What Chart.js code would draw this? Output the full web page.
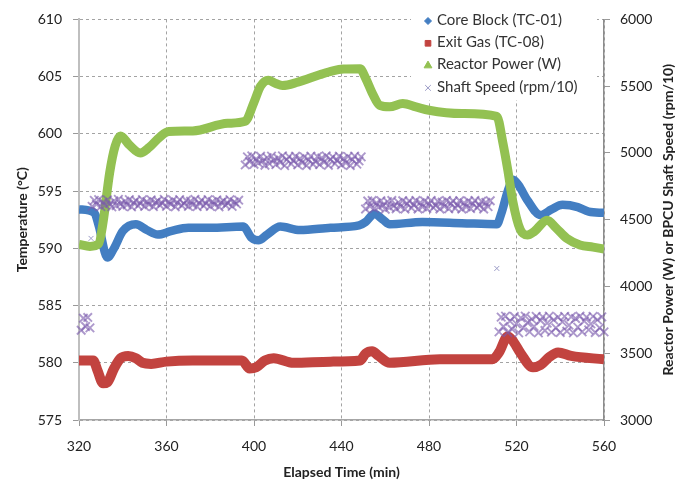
<!DOCTYPE html>
<html lang="en">
<head>
<meta charset="UTF-8">
<title>Reactor Test - Temperatures and Power</title>
<script src="https://cdn.jsdelivr.net/npm/chart.js"></script>
<style>
    body {
        margin: 0;
        padding: 0;
        background-color: #fff;
    }
</style>
</head>
<body>
<canvas id="testChart" width="688" height="485"></canvas>
<script>
    // Core block thermocouple (TC-01), deg C, left axis
    const coreTime = [320, 327, 329, 333, 336, 340, 346, 351, 356, 362, 370, 380, 395, 399, 402, 406, 412, 421, 435, 448, 451, 455, 459, 462, 477, 495, 511, 513, 516, 518.5, 521, 525, 531, 536, 541, 548, 553, 560];
    const coreTemp = [593.4, 593.1, 592.0, 589.2, 590.0, 591.5, 592.1, 591.6, 591.2, 591.5, 591.8, 591.8, 591.9, 590.9, 590.7, 591.2, 591.9, 591.6, 591.8, 592.0, 592.3, 593.0, 592.5, 592.1, 592.3, 592.2, 592.1, 593.0, 595.0, 596.0, 595.5, 594.2, 592.9, 593.4, 593.8, 593.6, 593.2, 593.1];

    // Exit gas thermocouple (TC-08), deg C, left axis
    const gasTime = [320, 326.5, 328.5, 331, 333, 336, 339, 342.5, 346, 349, 353, 360, 372, 394.5, 398, 401, 405, 409, 418, 435, 448.5, 451, 454, 457, 462, 485, 509, 512, 516, 518, 522, 527.5, 531, 535, 539, 545, 560];
    const gasTemp = [580.2, 580.2, 579.3, 578.2, 578.3, 579.5, 580.4, 580.6, 580.4, 580.0, 579.9, 580.1, 580.2, 580.2, 579.5, 579.6, 580.2, 580.4, 580.0, 580.1, 580.2, 580.8, 581.0, 580.6, 580.0, 580.3, 580.3, 580.9, 582.3, 582.0, 580.8, 579.6, 579.8, 580.5, 580.9, 580.6, 580.3];

    // Reactor power (W), right axis
    const powerTime = [320, 325, 329, 331, 334, 336.5, 339, 343, 348, 352, 357, 361, 372, 388, 396, 400, 403, 406.5, 410, 413, 420, 430, 436, 441, 448.5, 451, 454, 457.5, 462, 468, 474, 480, 495, 511, 513.8, 516, 518.4, 521.6, 525, 528, 534, 538, 543, 549, 555, 560];
    const power = [4315, 4300, 4320, 4480, 4850, 5050, 5126, 5060, 5000, 5040, 5120, 5160, 5165, 5222, 5237, 5380, 5500, 5545, 5520, 5505, 5530, 5585, 5615, 5628, 5630, 5560, 5450, 5356, 5345, 5370, 5345, 5320, 5295, 5274, 5074, 4874, 4630, 4430, 4385, 4410, 4496, 4440, 4360, 4311, 4295, 4281];

    // BPCU shaft speed (rpm/10), right axis - one reading per minute in each run
    const shaftStartA = 321;
    const shaftA = [3672, 3762, 3700, 3768, 3690];
    const shaftStartB = 326;
    const shaftB = [4600, 4645, 4615, 4650, 4598, 4632, 4610, 4648, 4620, 4596,
        4640, 4605, 4652, 4618, 4600, 4638, 4612, 4650, 4596, 4628,
        4644, 4604, 4622, 4650, 4600, 4636, 4614, 4648, 4598, 4630,
        4642, 4608, 4624, 4652, 4600, 4634, 4616, 4646, 4597, 4628,
        4650, 4606, 4620, 4644, 4600, 4638, 4612, 4652, 4598, 4626,
        4646, 4604, 4622, 4650, 4600, 4636, 4614, 4648, 4596, 4630,
        4642, 4608, 4624, 4650, 4600, 4634, 4618, 4646];
    const shaftStartC = 396;
    const shaftC = [4910, 4970, 4935, 4978, 4915, 4955, 4925, 4975, 4940, 4908,
        4965, 4920, 4976, 4945, 4912, 4960, 4930, 4978, 4905, 4950,
        4972, 4918, 4942, 4975, 4910, 4958, 4928, 4970, 4906, 4948,
        4976, 4915, 4938, 4972, 4912, 4962, 4932, 4978, 4908, 4952,
        4970, 4920, 4945, 4975, 4910, 4958, 4926, 4972, 4906, 4950,
        4976, 4916, 4940, 4970];
    const shaftStartD = 451;
    const shaftD = [4580, 4640, 4600, 4644, 4585, 4625, 4595, 4642, 4610, 4578,
        4635, 4592, 4644, 4605, 4582, 4630, 4598, 4642, 4580, 4620,
        4640, 4588, 4612, 4644, 4580, 4628, 4596, 4640, 4584, 4618,
        4644, 4590, 4606, 4638, 4580, 4632, 4600, 4644, 4582, 4622,
        4640, 4586, 4610, 4642, 4580, 4626, 4596, 4640, 4584, 4620,
        4644, 4590, 4608, 4638, 4580, 4630, 4598, 4642];
    const shaftStartE = 512;
    const shaftE = [3660, 3770, 3700, 3778, 3655, 3740, 3680, 3775, 3720, 3652,
        3765, 3690, 3778, 3730, 3660, 3755, 3700, 3776, 3652, 3745,
        3772, 3670, 3725, 3778, 3658, 3750, 3690, 3770, 3655, 3735,
        3776, 3665, 3710, 3772, 3652, 3760, 3695, 3778, 3660, 3740,
        3770, 3675, 3720, 3776, 3655, 3750, 3690, 3772, 3660];
    // stray readings
    const shaftStrayTime = [325.5, 511];
    const shaftStray = [4360, 4135];

    const legendNames = ['Core Block (TC-01)', 'Exit Gas (TC-08)', 'Reactor Power (W)', 'Shaft Speed (rpm/10)'];
    const rightTitle = 'Reactor Power (W) or BPCU Shaft Speed (rpm/10)';

    const blue = '#437ec2';
    const red = '#c2433f';
    const green = '#93c152';
    const purple = 'rgba(122, 90, 172, 0.62)';
    const textColor = '#222';
    const fontFamily = 'Lato, "Open Sans", sans-serif';

    function pairs(xs, ys) {
        return xs.map((x, i) => ({ x: x, y: ys[i] }));
    }

    function run(start, vals) {
        return vals.map((v, i) => ({ x: start + i, y: v }));
    }

    const shaftPoints = [].concat(
        run(shaftStartA, shaftA),
        run(shaftStartB, shaftB),
        run(shaftStartC, shaftC),
        run(shaftStartD, shaftD),
        run(shaftStartE, shaftE)
    );

    // legend box and right-hand axis title (read bottom-to-top like the left one)
    const overlay = {
        id: 'overlay',
        afterDraw(chart) {
            const ctx = chart.ctx;
            const area = chart.chartArea;
            const y1 = chart.scales.y1;

            ctx.save();
            ctx.font = 'bold 14px ' + fontFamily;
            ctx.fillStyle = textColor;
            ctx.textAlign = 'center';
            ctx.textBaseline = 'middle';
            ctx.translate(y1.right - 20, (area.top + area.bottom) / 2);
            ctx.rotate(-Math.PI / 2);
            ctx.fillText(rightTitle, 0, 0);
            ctx.restore();

            ctx.save();
            ctx.fillStyle = '#fff';
            ctx.fillRect(411, 4, 186, 96);
            const markers = [
                { pointStyle: 'rectRot', radius: 3.5, color: blue },
                { pointStyle: 'rect', radius: 4, color: red },
                { pointStyle: 'triangle', radius: 4.5, color: green },
                { pointStyle: 'crossRot', radius: 4, color: '#9a9ac6' }
            ];
            ctx.font = '15px ' + fontFamily;
            ctx.textAlign = 'left';
            ctx.textBaseline = 'middle';
            legendNames.forEach((name, i) => {
                const y = 20 + i * 22.3;
                const m = markers[i];
                ctx.fillStyle = m.color;
                ctx.strokeStyle = m.color;
                ctx.lineWidth = 1;
                Chart.helpers.drawPoint(ctx, { pointStyle: m.pointStyle, radius: m.radius, borderWidth: 1, rotation: 0 }, 428, y + 1);
                ctx.fillStyle = '#333';
                ctx.fillText(name, 437, y);
            });
            ctx.restore();
        }
    };

    const lineStyle = {
        pointRadius: 0,
        cubicInterpolationMode: 'monotone',
        borderJoinStyle: 'round',
        borderCapStyle: 'butt',
        fill: false
    };

    const gridColor = '#a3a3a3';
    const tickFont = { family: fontFamily, size: 14 };

    const ctx = document.getElementById('testChart').getContext('2d');
    const testChart = new Chart(ctx, {
        type: 'line',
        data: {
            datasets: [
                Object.assign({ label: legendNames[0], data: pairs(coreTime, coreTemp), borderColor: blue, borderWidth: 8.5, yAxisID: 'y', order: 4 }, lineStyle),
                Object.assign({ label: legendNames[1], data: pairs(gasTime, gasTemp), borderColor: red, borderWidth: 10, yAxisID: 'y', order: 3 }, lineStyle),
                Object.assign({ label: legendNames[2], data: pairs(powerTime, power), borderColor: green, borderWidth: 9, yAxisID: 'y1', order: 2 }, lineStyle),
                {
                    label: legendNames[3],
                    data: shaftPoints,
                    yAxisID: 'y1',
                    order: 1,
                    showLine: false,
                    pointStyle: 'crossRot',
                    pointRadius: 6,
                    pointBorderWidth: 1.9,
                    pointBorderColor: purple,
                    borderColor: purple,
                    clip: false
                },
                {
                    label: 'stray shaft readings',
                    data: pairs(shaftStrayTime, shaftStray),
                    yAxisID: 'y1',
                    order: 0,
                    showLine: false,
                    pointStyle: 'crossRot',
                    pointRadius: 3.5,
                    pointBorderWidth: 1,
                    pointBorderColor: '#9a9ac6',
                    borderColor: '#9a9ac6'
                }
            ]
        },
        options: {
            responsive: false,
            animation: false,
            layout: { padding: { top: 15, left: 0, right: 0, bottom: 0 } },
            plugins: {
                legend: { display: false },
                tooltip: { enabled: false }
            },
            scales: {
                x: {
                    type: 'linear',
                    min: 320,
                    max: 560,
                    ticks: { stepSize: 40, color: textColor, font: tickFont, padding: 12 },
                    grid: { color: gridColor, tickLength: 6, tickColor: '#999', tickBorderDash: [] },
                    border: { color: '#a6a6a6', width: 1.5, dash: [3, 3] },
                    title: {
                        display: true,
                        text: 'Elapsed Time (min)',
                        color: textColor,
                        font: { family: fontFamily, size: 14, weight: 'bold' },
                        padding: { top: 0, bottom: 4 }
                    },
                    afterFit: (scale) => { scale.height = 65; }
                },
                y: {
                    position: 'left',
                    min: 575,
                    max: 610,
                    ticks: { stepSize: 5, color: textColor, font: tickFont, padding: 11 },
                    grid: { color: gridColor, tickLength: 6, tickColor: '#999', tickBorderDash: [] },
                    border: { color: '#bfbfbf', width: 2, dash: [3, 3] },
                    title: {
                        display: true,
                        text: 'Temperature (°C)',
                        color: textColor,
                        font: { family: fontFamily, size: 14, weight: 'bold' },
                        padding: { top: 14, bottom: 0 }
                    },
                    afterFit: (scale) => { scale.width = 79; }
                },
                y1: {
                    position: 'right',
                    min: 3000,
                    max: 6000,
                    ticks: {
                        stepSize: 500,
                        color: textColor,
                        font: tickFont,
                        padding: 10,
                        callback: (value) => String(value)
                    },
                    grid: { drawOnChartArea: false, tickLength: 6, tickColor: '#999', tickBorderDash: [] },
                    border: { color: '#8c8c8c', width: 1.5 },
                    afterFit: (scale) => { scale.width = 84; }
                }
            }
        },
        plugins: [overlay]
    });
</script>
</body>
</html>
